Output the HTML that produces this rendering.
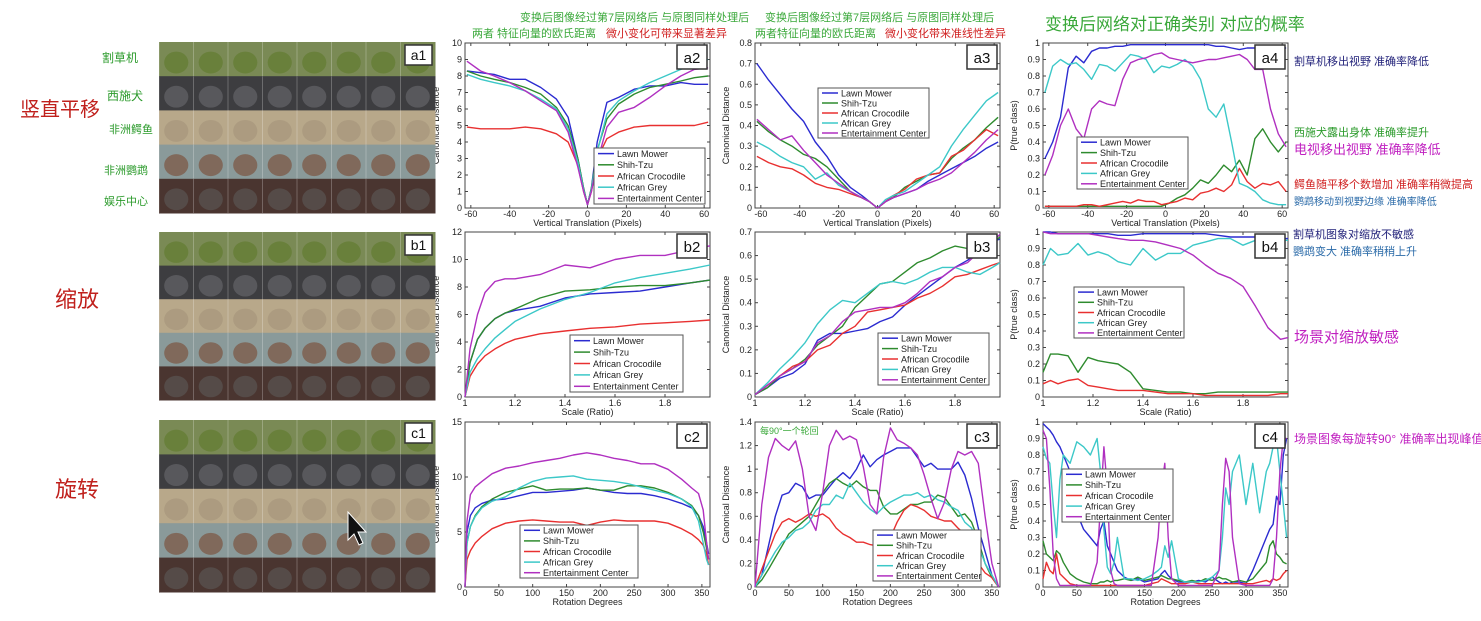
<!DOCTYPE html>
<html><head><meta charset="utf-8">
<style>
html,body{margin:0;padding:0;background:#fff;}
body{width:1481px;height:621px;position:relative;overflow:hidden;font-family:"Liberation Sans","Noto Sans CJK SC",sans-serif;}
.note{position:absolute;white-space:nowrap;font-family:"Liberation Sans","Noto Sans CJK SC",sans-serif;}
</style></head>
<body>
<svg id="main" width="1481" height="621" xmlns="http://www.w3.org/2000/svg" style="position:absolute;left:0;top:0"></svg>

<div class="note" style="left:20px;top:93px;font-size:20px;color:#c0201c">竖直平移</div>
<div class="note" style="left:55px;top:282px;font-size:22px;color:#c0201c">缩放</div>
<div class="note" style="left:55px;top:472px;font-size:22px;color:#c0201c">旋转</div>
<div class="note" style="left:102px;top:49px;font-size:12px;color:#2a9a2a">割草机</div>
<div class="note" style="left:107px;top:87px;font-size:12px;color:#2a9a2a">西施犬</div>
<div class="note" style="left:109px;top:121px;font-size:11px;color:#2a9a2a">非洲鳄鱼</div>
<div class="note" style="left:104px;top:162px;font-size:11px;color:#2a9a2a">非洲鹦鹉</div>
<div class="note" style="left:104px;top:193px;font-size:11px;color:#2a9a2a">娱乐中心</div>

<div class="note" style="left:520px;top:9px;font-size:11px;color:#3aa83a">变换后图像经过第7层网络后 与原图同样处理后</div>
<div class="note" style="left:472px;top:25px;font-size:11px;color:#3aa83a">两者 特征向量的欧氏距离</div>
<div class="note" style="left:606px;top:25px;font-size:11px;color:#d02020">微小变化可带来显著差异</div>
<div class="note" style="left:765px;top:9px;font-size:11px;color:#3aa83a">变换后图像经过第7层网络后 与原图同样处理后</div>
<div class="note" style="left:755px;top:25px;font-size:11px;color:#3aa83a">两者特征向量的欧氏距离</div>
<div class="note" style="left:885px;top:25px;font-size:11px;color:#d02020">微小变化带来准线性差异</div>
<div class="note" style="left:1045px;top:10px;font-size:17px;color:#3aa83a">变换后网络对正确类别 对应的概率</div>
<div class="note" style="left:760px;top:424px;font-size:9px;color:#3aa83a">每90°一个轮回</div>

<div class="note" style="left:1294px;top:53px;font-size:11px;color:#22227a">割草机移出视野 准确率降低</div>
<div class="note" style="left:1294px;top:124px;font-size:11px;color:#2a9a2a">西施犬露出身体 准确率提升</div>
<div class="note" style="left:1294px;top:139px;font-size:13px;color:#c020c0">电视移出视野 准确率降低</div>
<div class="note" style="left:1294px;top:176px;font-size:11px;color:#d02020">鳄鱼随平移个数增加 准确率稍微提高</div>
<div class="note" style="left:1294px;top:193px;font-size:10px;color:#2a6aa8">鹦鹉移动到视野边缘 准确率降低</div>
<div class="note" style="left:1293px;top:226px;font-size:11px;color:#22227a">割草机图象对缩放不敏感</div>
<div class="note" style="left:1293px;top:243px;font-size:11px;color:#2a6aa8">鹦鹉变大 准确率稍稍上升</div>
<div class="note" style="left:1294px;top:326px;font-size:15px;color:#c020c0">场景对缩放敏感</div>
<div class="note" style="left:1294px;top:430px;font-size:12px;color:#c020c0">场景图象每旋转90° 准确率出现峰值</div>

<script>
// ---------- data ----------
const seriesNames = ["Lawn Mower","Shih-Tzu","African Crocodile","African Grey","Entertainment Center"];
const seriesColors = ["#2b2bd0","#2e8b2e","#e83030","#3cc8c8","#b030c0"];

const a2_x = [-62,-55,-48,-40,-32,-24,-16,-10,-5,-2,0,2,5,10,16,24,32,40,48,55,62];
const a2_lawn = [8.3,8.2,8.1,7.8,7.8,7.3,6.6,5.5,3,1.2,0.2,1.2,4,6.4,6.7,7.2,7.4,7.4,7.6,7.5,7.5];
const a2_shih = [8.3,8.0,7.8,7.6,7.3,6.9,6.1,5,3,1.2,0.2,1.2,3.5,5.4,6.3,6.9,7.3,7.5,7.7,7.9,8.0];
const a2_croc = [4.9,4.8,4.8,4.8,4.9,4.8,4.5,4,2.6,1,0.2,1,3,4.2,4.6,4.9,5.0,5.0,5.0,5.0,5.2];
const a2_grey = [8.1,7.8,7.6,7.4,7.1,6.6,6,4.8,2.8,1.1,0.2,1.1,3.4,5.7,6.5,7.1,7.6,8.0,8.4,8.8,9.0];
const a2_ent = [8.9,8.3,8.0,7.6,7.1,6.5,5.9,4.6,2.5,1,0.2,1,2.8,4.9,5.8,6.1,6.7,7.4,8.0,8.4,8.5];

const a3_x = [-62,-56,-50,-44,-38,-32,-26,-20,-14,-8,-4,0,4,8,14,20,26,32,38,44,50,56,62];
const a3_lawn = [.70,.62,.55,.48,.42,.32,.25,.16,.10,.06,.03,0,.03,.05,.07,.09,.13,.16,.19,.22,.25,.29,.32];
const a3_shih = [.42,.37,.33,.30,.26,.24,.20,.14,.08,.05,.03,0,.03,.05,.10,.13,.16,.17,.24,.29,.33,.39,.44];
const a3_croc = [.25,.22,.20,.19,.16,.12,.10,.09,.07,.05,.03,0,.03,.06,.09,.14,.16,.17,.25,.28,.33,.38,.35];
const a3_grey = [.32,.29,.25,.22,.20,.14,.17,.11,.08,.05,.03,0,.04,.06,.08,.12,.16,.20,.30,.38,.45,.52,.56];
const a3_ent = [.43,.38,.33,.35,.28,.22,.16,.12,.08,.05,.03,0,.03,.05,.07,.09,.12,.14,.17,.22,.27,.33,.38];

const a4_x = [-62,-58,-54,-50,-46,-42,-38,-34,-30,-26,-22,-18,-14,-10,-6,-2,2,6,10,14,18,22,26,30,34,38,42,46,50,54,58,62];
const a4_lawn = [.30,.40,.55,.85,.92,.88,.95,.97,.97,.98,.98,.99,.99,.99,.99,.99,.99,.99,.99,.99,.99,.99,.98,.98,.97,.96,.97,.97,.98,.97,.97,.97];
const a4_shih = [.01,.01,.01,.01,.01,.01,.01,.01,.01,.01,.01,.01,.01,.01,.01,.01,.03,.06,.08,.12,.17,.15,.20,.26,.22,.29,.20,.42,.48,.40,.34,.40];
const a4_croc = [.01,.01,.01,.01,.01,.02,.02,.01,.02,.03,.04,.03,.05,.04,.04,.02,.03,.04,.06,.05,.09,.10,.12,.10,.14,.24,.16,.12,.15,.14,.16,.10];
const a4_grey = [.70,.86,.90,.87,.88,.84,.78,.87,.86,.83,.88,.93,.92,.90,.82,.86,.85,.87,.90,.86,.78,.60,.55,.63,.40,.15,.13,.10,.05,.03,.02,.02];
const a4_ent = [.20,.32,.50,.60,.48,.42,.60,.65,.63,.62,.78,.88,.90,.91,.93,.94,.91,.90,.89,.88,.89,.90,.90,.91,.92,.93,.90,.84,.84,.60,.45,.37];

const b2_x = [1,1.02,1.05,1.08,1.12,1.16,1.2,1.3,1.4,1.5,1.6,1.7,1.8,1.9,1.98];
const b2_lawn = [0,2.5,4.2,5,5.7,6.1,6.3,6.6,7.2,7.5,7.6,7.7,8.0,8.3,8.5];
const b2_shih = [0,2.5,4.2,5,5.7,6.1,6.4,7.2,7.7,7.8,8.0,8.1,8.1,8.3,8.5];
const b2_croc = [0,1.5,2.4,3,3.5,3.9,4.2,4.6,4.8,5.0,5.1,5.3,5.4,5.5,5.6];
const b2_grey = [0,1.8,2.8,3.5,4.3,4.9,5.5,6.4,7.1,7.6,8.3,8.7,9.0,9.3,9.6];
const b2_ent = [0,3.5,6,7.6,8.4,8.6,8.6,8.9,9.6,9.4,10.0,10.3,10.3,10.7,11];

const b3_x = [1,1.05,1.1,1.15,1.2,1.25,1.3,1.35,1.4,1.45,1.5,1.55,1.6,1.65,1.7,1.75,1.8,1.85,1.9,1.95,1.98];
const b3_lawn = [.01,.04,.08,.10,.14,.24,.27,.27,.28,.29,.32,.34,.39,.43,.47,.51,.55,.58,.62,.66,.67];
const b3_shih = [.01,.04,.09,.12,.16,.22,.26,.30,.38,.43,.48,.49,.53,.57,.59,.62,.64,.63,.62,.65,.68];
const b3_croc = [.01,.05,.09,.13,.15,.20,.22,.27,.30,.36,.37,.38,.39,.42,.44,.47,.51,.52,.54,.56,.57];
const b3_grey = [.01,.06,.12,.17,.23,.31,.37,.41,.40,.44,.48,.49,.48,.50,.53,.55,.55,.53,.52,.55,.57];
const b3_ent = [.01,.05,.09,.12,.15,.23,.26,.32,.36,.37,.38,.38,.40,.44,.49,.51,.55,.57,.62,.66,.69];

const b4_x = [1,1.03,1.06,1.1,1.14,1.18,1.22,1.26,1.3,1.35,1.4,1.45,1.5,1.55,1.6,1.65,1.7,1.75,1.8,1.85,1.9,1.95,1.98];
const b4_lawn = [1,1,.99,.99,.99,.99,.99,.99,.98,.98,.99,.99,.99,.99,.99,.99,.98,.97,.97,.97,.96,.96,.96];
const b4_shih = [.15,.26,.26,.25,.15,.24,.22,.21,.20,.15,.05,.04,.03,.03,.02,.02,.03,.03,.03,.03,.03,.03,.03];
const b4_croc = [.08,.10,.08,.10,.11,.07,.06,.05,.04,.04,.04,.03,.02,.02,.02,.01,.01,.01,.01,.01,.01,.02,.02];
const b4_grey = [.80,.90,.86,.87,.93,.86,.88,.86,.82,.80,.90,.83,.87,.87,.92,.94,.96,.96,.92,.95,.95,.95,.95];
const b4_ent = [1,.99,.99,.99,.99,.99,.98,.97,.96,.95,.95,.94,.92,.90,.86,.80,.75,.72,.67,.55,.42,.35,.36];

const c2_x = [0,3,8,15,25,40,60,80,100,120,140,160,180,200,220,240,260,280,300,320,335,345,352,357,360];
const c2_lawn = [0,5,6.5,7.2,7.6,7.9,8.0,8.3,8.6,8.6,8.7,8.8,9.0,8.8,8.6,8.5,8.5,8.3,8.0,7.6,7.2,6.5,5.5,4,3];
const c2_shih = [0,4,5.5,6.5,7.3,8.0,8.6,8.9,9.2,8.8,8.9,8.9,9.0,8.8,8.8,9.2,9.2,9.0,8.6,8.0,7.4,6.5,5,3.5,2.5];
const c2_croc = [0,2.5,3.3,4,4.6,5.3,5.8,6,6.1,6,5.9,5.9,5.6,5.9,6.1,6,6,6,5.8,5.3,4.8,4.3,3.8,3,2];
const c2_grey = [0,4,5.5,6.4,7.2,7.8,8.2,9,9.6,9.9,10,10.1,9.8,9.7,9.6,9.4,9.1,8.8,8.5,8,7.3,6,4,2.5,2];
const c2_ent = [0,6,8.4,9.1,9.6,10.3,10.8,11,11.3,11.5,11.7,12,12.2,12,11.7,11.5,11.2,11.2,10.7,9.8,9,8.5,7,4,2.5];

const c3_x = [0,10,20,30,40,50,60,70,80,90,100,110,120,130,140,150,160,170,180,190,200,210,220,230,240,250,260,270,280,290,300,310,320,330,340,350,360];
const c3_lawn = [0,.1,.35,.6,.78,.8,.88,.85,.75,.78,.78,.85,.92,.97,.92,1.0,1.12,1.02,1.08,1.12,1.15,1.18,1.18,1.18,1.1,1.02,1.05,1.0,1.0,1.0,1.06,.95,.75,.5,.3,.1,0];
const c3_shih = [0,.06,.15,.25,.35,.45,.5,.55,.6,.7,.8,.88,.92,.88,.85,.9,.85,.82,.82,.68,.62,.62,.66,.7,.7,.72,.72,.78,.76,.68,.6,.62,.55,.4,.2,.08,0];
const c3_croc = [0,.15,.3,.45,.55,.58,.55,.58,.62,.6,.62,.58,.5,.45,.42,.38,.38,.36,.35,.38,.42,.55,.65,.7,.68,.65,.6,.58,.56,.56,.5,.45,.35,.2,.12,.08,0];
const c3_grey = [0,.1,.2,.3,.38,.42,.48,.5,.55,.65,.7,.7,.78,.75,.88,.8,.72,.66,.62,.68,.72,.75,.78,.78,.8,.76,.78,.74,.72,.68,.65,.55,.5,.35,.2,.1,0];
const c3_ent = [0,.7,1.1,1.26,1.2,1.16,1.24,1.0,.6,.48,.8,1.2,1.33,1.25,1.28,1.25,1.02,.7,.62,1.1,1.35,1.25,1.22,1.18,1.12,.95,.75,.58,.72,1.0,1.15,1.12,1.15,1.05,.6,.2,0];

const c4_x = [0,5,10,15,20,25,30,40,50,60,70,80,85,90,95,100,105,110,120,130,140,150,160,170,175,180,185,190,200,210,220,230,240,250,260,265,270,275,280,290,300,310,320,330,335,340,345,350,355,360];
const c4_lawn = [.99,.97,.95,.92,.88,.85,.8,.7,.45,.35,.3,.25,.35,.4,.25,.2,.15,.1,.06,.04,.05,.03,.04,.05,.08,.1,.07,.05,.03,.03,.03,.04,.03,.06,.03,.02,.03,.02,.03,.03,.02,.1,.2,.3,.35,.38,.55,.5,.8,.9];
const c4_shih = [.28,.2,.18,.16,.22,.2,.15,.08,.05,.03,.02,.02,.03,.03,.04,.03,.04,.04,.05,.04,.06,.04,.05,.06,.07,.06,.05,.05,.04,.03,.04,.03,.05,.04,.06,.05,.05,.04,.03,.04,.03,.05,.1,.15,.25,.28,.2,.18,.15,.14];
const c4_croc = [.05,.15,.1,.08,.2,.08,.06,.02,.01,.01,.01,.01,.01,.01,.01,.01,.01,.01,.01,.01,.01,.01,.02,.03,.05,.04,.03,.02,.02,.02,.03,.02,.02,.02,.02,.02,.02,.02,.02,.02,.02,.02,.03,.04,.03,.05,.04,.05,.08,.1];
const c4_grey = [.85,.78,.75,.5,.3,.65,.8,.75,.88,.85,.8,.9,.7,.35,.12,.08,.15,.3,.05,.05,.04,.05,.07,.1,.12,.25,.18,.28,.05,.03,.03,.03,.04,.06,.1,.3,.6,.5,.7,.8,.5,.75,.45,.7,.75,.85,.9,.7,.5,.3];
const c4_ent = [.95,.9,.6,.2,.05,.01,.01,.01,.01,.01,.01,.15,.5,.85,.6,.1,.02,.01,.01,.01,.01,.01,.01,.3,.6,.75,.3,.05,.01,.01,.01,.01,.01,.01,.1,.5,.78,.7,.3,.02,.01,.01,.01,.01,.01,.05,.3,.7,.9,.9];

const transTicks = [-60,-40,-20,0,20,40,60];
const scaleTicks = [1,1.2,1.4,1.6,1.8];
const rotTicks = [0,50,100,150,200,250,300,350];
const probTicks = [0,0.1,0.2,0.3,0.4,0.5,0.6,0.7,0.8,0.9,1];

// ---------- drawing ----------
const NS = "http://www.w3.org/2000/svg";
const svg = document.getElementById("main");
function mk(tag, attrs, parent){
  const e = document.createElementNS(NS, tag);
  for (const k in attrs) e.setAttribute(k, attrs[k]);
  (parent||svg).appendChild(e);
  return e;
}
function fmt(v){ return String(Math.round(v*1000)/1000); }

function chart(id, box, xd, yd, xt, yt, xtitle, ytitle, xs, ys, legend, tag){
  const g = mk("g", {});
  
  
  const X = v => box.x + (v - xd[0]) / (xd[1] - xd[0]) * box.w;
  const Y = v => box.y + box.h - (v - yd[0]) / (yd[1] - yd[0]) * box.h;
  const frame = mk("rect", {x:box.x, y:box.y, width:box.w, height:box.h, fill:"#fff", stroke:"#444", "stroke-width":1}, g);
  
  
  xt.forEach(t => {
    const x = X(t);
    mk("line", {x1:x, y1:box.y+box.h, x2:x, y2:box.y+box.h-3, stroke:"#444"}, g);
    mk("line", {x1:x, y1:box.y, x2:x, y2:box.y+3, stroke:"#444"}, g);
    const tx = mk("text", {x:x, y:box.y+box.h+9, "font-size":9, "text-anchor":"middle", fill:"#222"}, g);
    tx.textContent = fmt(t);
    
    
  });
  yt.forEach(t => {
    const y = Y(t);
    mk("line", {x1:box.x, y1:y, x2:box.x+3, y2:y, stroke:"#444"}, g);
    mk("line", {x1:box.x+box.w, y1:y, x2:box.x+box.w-3, y2:y, stroke:"#444"}, g);
    const tx = mk("text", {x:box.x-3, y:y+3, "font-size":9, "text-anchor":"end", fill:"#222"}, g);
    tx.textContent = fmt(t);
    
    
  });
  const xtl = mk("text", {x:box.x+box.w/2, y:box.y+box.h+18, "font-size":9, "text-anchor":"middle", fill:"#222"}, g);
  xtl.textContent = xtitle;
  
  
  const ytx = box.x - 26, yty = box.y + box.h/2;
  const ytl = mk("text", {x:ytx, y:yty, "font-size":9, "text-anchor":"middle", fill:"#222", transform:`rotate(-90 ${ytx} ${yty})`}, g);
  ytl.textContent = ytitle;
  
  
  ys.forEach((arr, i) => {
    const d = arr.map((v, j) => (j ? "L" : "M") + X(xs[j]).toFixed(1) + " " + Y(v).toFixed(1)).join(" ");
    const p = mk("path", {d:d, fill:"none", stroke:seriesColors[i], "stroke-width":1.4, "stroke-linejoin":"round"}, g);
    
    
  });
  const lg = mk("g", {}, g);
  
  
  mk("rect", {x:legend.x, y:legend.y, width:legend.w, height:legend.h, fill:"#fff", stroke:"#555", "stroke-width":1}, lg);
  const rh = legend.h / 5;
  seriesNames.forEach((n, i) => {
    const yy = legend.y + rh*(i+0.5);
    mk("line", {x1:legend.x+4, y1:yy, x2:legend.x+20, y2:yy, stroke:seriesColors[i], "stroke-width":1.5}, lg);
    const t = mk("text", {x:legend.x+23, y:yy+3.3, "font-size":9, fill:"#222"}, lg);
    t.textContent = n;
    
    
  });
  const tgw = 30, tgh = 24;
  const tr = mk("rect", {x:box.x+box.w-tgw-3, y:box.y+2, width:tgw, height:tgh, fill:"#fff", stroke:"#333", "stroke-width":1.5}, g);
  
  
  const tt = mk("text", {x:box.x+box.w-3-tgw/2, y:box.y+20, "font-size":15, "text-anchor":"middle", fill:"#111"}, g);
  tt.textContent = tag;
  
  
}

const colX = [465, 755, 1043], W = 245;
const rowY = [[43,165],[232,165],[422,165]];
const T = "Vertical Translation (Pixels)", S = "Scale (Ratio)", R = "Rotation Degrees", CD = "Canonical Distance", P = "P(true class)";
function bx(c, r){ return {x:colX[c], y:rowY[r][0], w:W, h:rowY[r][1]}; }

chart("a2", bx(0,0), [-63,63], [0,10], transTicks, [0,1,2,3,4,5,6,7,8,9,10], T, CD, a2_x, [a2_lawn,a2_shih,a2_croc,a2_grey,a2_ent], {x:594,y:148,w:111,h:56}, "a2");
chart("a3", bx(1,0), [-63,63], [0,0.8], transTicks, [0,.1,.2,.3,.4,.5,.6,.7,.8], T, CD, a3_x, [a3_lawn,a3_shih,a3_croc,a3_grey,a3_ent], {x:818,y:88,w:111,h:50}, "a3");
chart("a4", bx(2,0), [-63,63], [0,1], transTicks, probTicks, T, P, a4_x, [a4_lawn,a4_shih,a4_croc,a4_grey,a4_ent], {x:1077,y:137,w:111,h:52}, "a4");
chart("b2", bx(0,1), [1,1.98], [0,12], scaleTicks, [0,2,4,6,8,10,12], S, CD, b2_x, [b2_lawn,b2_shih,b2_croc,b2_grey,b2_ent], {x:570,y:335,w:113,h:57}, "b2");
chart("b3", bx(1,1), [1,1.98], [0,0.7], scaleTicks, [0,.1,.2,.3,.4,.5,.6,.7], S, CD, b3_x, [b3_lawn,b3_shih,b3_croc,b3_grey,b3_ent], {x:878,y:333,w:111,h:52}, "b3");
chart("b4", bx(2,1), [1,1.98], [0,1], scaleTicks, probTicks, S, P, b4_x, [b4_lawn,b4_shih,b4_croc,b4_grey,b4_ent], {x:1074,y:287,w:110,h:51}, "b4");
chart("c2", bx(0,2), [0,362], [0,15], rotTicks, [0,5,10,15], R, CD, c2_x, [c2_lawn,c2_shih,c2_croc,c2_grey,c2_ent], {x:520,y:525,w:118,h:53}, "c2");
chart("c3", bx(1,2), [0,362], [0,1.4], rotTicks, [0,.2,.4,.6,.8,1,1.2,1.4], R, CD, c3_x, [c3_lawn,c3_shih,c3_croc,c3_grey,c3_ent], {x:873,y:530,w:108,h:51}, "c3");
chart("c4", bx(2,2), [0,362], [0,1], rotTicks, probTicks, R, P, c4_x, [c4_lawn,c4_shih,c4_croc,c4_grey,c4_ent], {x:1062,y:469,w:111,h:53}, "c4");

// ---------- image mosaics ----------
const rowColors = [["#7a8a55","#5d7a2a"],["#3d3d40","#6a6a70"],["#b8a88a","#a3937a"],["#8a9a9a","#7a4a32"],["#4a3530","#5e5a58"]];
function mosaic(tag, top, h){
  const g = mk("g", {});
  
  
  const left = 159, w = 276, rh = h/5, cw = w/8;
  for (let r = 0; r < 5; r++){
    for (let c = 0; c < 8; c++){
      const x = left + c*cw, y = top + r*rh;
      mk("rect", {x:x, y:y, width:cw+0.5, height:rh+0.5, fill:rowColors[r][0]}, g);
      mk("ellipse", {cx:x+cw*0.5, cy:y+rh*0.6, rx:cw*0.35, ry:rh*0.32, fill:rowColors[r][1], opacity:0.6}, g);
      mk("line", {x1:x, y1:y, x2:x, y2:y+rh, stroke:"#fff", "stroke-width":0.6, opacity:0.4}, g);
    }
  }
  mk("rect", {x:left+w-30, y:top+3, width:27, height:20, fill:"#fff", stroke:"#333", "stroke-width":1.5}, g);
  const t = mk("text", {x:left+w-16.5, y:top+18, "font-size":14, "text-anchor":"middle", fill:"#111"}, g);
  t.textContent = tag;
}
mosaic("a1", 42, 171);
mosaic("b1", 232, 168);
mosaic("c1", 420, 172);
const cur = mk("polygon", {points:"348,512 348,540 354,534 359,545 363,543 358,532 366,532", fill:"#111", stroke:"#fff", "stroke-width":1});


</script>
</body></html>
